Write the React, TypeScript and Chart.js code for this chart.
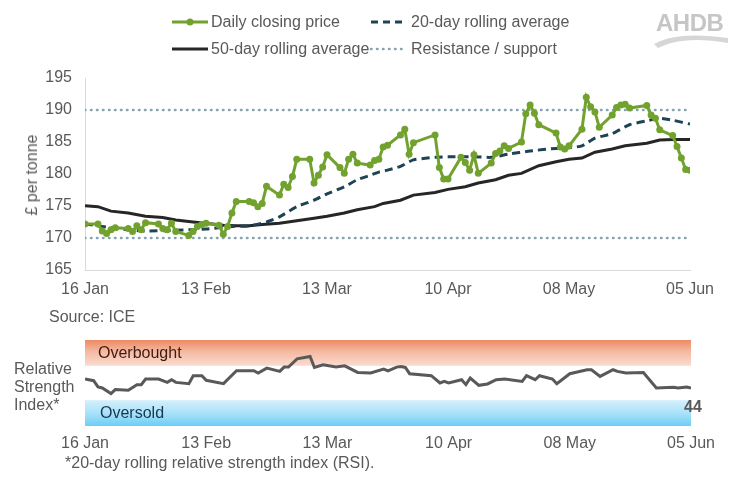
import React, { useEffect, useRef } from "react";
import { Chart, registerables } from "chart.js";

Chart.register(...registerables);

// ---- data (day index = days since 16 Jan) ----
const xTickLabels = ["16 Jan", "13 Feb", "13 Mar", "10 Apr", "08 May", "05 Jun"];
const yTicks = [165, 170, 175, 180, 185, 190, 195];

const priceDays = [
  0, 3, 4, 5, 6, 7, 10, 11, 12, 13, 14, 17, 18, 19, 20, 21, 24, 25, 26, 27, 28,
  31, 32, 33, 34, 35, 38, 39, 40, 41, 42, 45, 46, 47, 48, 49, 52, 53, 54, 55, 56,
  59, 60, 61, 62, 63, 66, 67, 68, 69, 70, 73, 74, 75, 76, 81, 82, 83, 84,
  87, 88, 89, 90, 91, 94, 95, 96, 97, 98, 101, 102, 103, 104, 105, 109, 110, 111, 112,
  115, 116, 117, 118, 119, 122, 123, 124, 125, 126, 130, 131, 132, 133, 136, 137, 138, 139, 140,
];
const priceValues = [
  172.2, 172.2, 171.1, 170.7, 171.3, 171.6, 171.5, 171.0, 171.9, 171.3, 172.4, 172.2, 171.5, 171.3, 172.3, 171.0, 170.4, 171.0, 171.8, 172.1, 172.3,
  172.0, 170.6, 171.8, 173.9, 175.7, 175.7, 175.5, 174.9, 175.4, 178.1, 176.7, 178.4, 177.9, 179.6, 182.3, 182.3, 178.6, 179.8, 181.1, 183.0,
  181.0, 180.1, 182.3, 183.1, 181.7, 181.4, 182.1, 182.3, 184.2, 184.5, 186.1, 187.0, 183.1, 184.9, 186.1, 181.0, 179.2, 179.2,
  182.6, 181.8, 180.6, 183.0, 180.1, 181.7, 183.2, 183.6, 184.4, 184.0, 185.0, 189.4, 190.8, 189.5, 187.7, 186.4, 184.2, 183.9, 184.4,
  187.0, 192.0, 190.5, 189.7, 187.3, 189.2, 190.4, 190.8, 190.9, 190.3, 190.7, 189.2, 188.7, 186.9, 186.0, 184.3, 182.5, 180.7, 180.6,
];

const avg20Days = [0, 7, 14, 21, 28, 34, 38, 42, 45, 49, 53, 56, 60, 63, 66, 68, 70, 73, 76, 81, 84, 90, 94, 98, 103, 109, 112, 115, 118, 122, 126, 130, 133, 136, 140];
const avg20Values = [172.2, 171.5, 171.1, 171.2, 171.4, 171.8, 171.9, 172.5, 173.3, 174.9, 175.9, 176.9, 178.0, 179.1, 179.8, 180.3, 180.6, 181.2, 182.2, 182.6, 182.7, 182.7, 182.6, 183.1, 183.6, 184.0, 184.1, 184.4, 185.6, 186.3, 187.7, 188.3, 188.7, 188.4, 187.8];

const avg50Days = [0, 3, 6, 10, 14, 18, 21, 25, 28, 32, 35, 38, 41, 45, 49, 53, 56, 60, 63, 67, 69, 73, 76, 81, 84, 88, 91, 95, 98, 101, 105, 109, 112, 115, 118, 122, 125, 130, 133, 136, 140];
const avg50Values = [175.05, 174.9, 174.2, 173.9, 173.4, 173.2, 172.8, 172.5, 172.3, 172.0, 171.9, 171.9, 172.1, 172.3, 172.7, 173.1, 173.4, 173.9, 174.4, 174.9, 175.4, 175.9, 176.7, 177.1, 177.6, 178.0, 178.6, 179.1, 179.8, 180.1, 181.3, 181.9, 182.3, 182.5, 183.4, 183.9, 184.4, 184.8, 185.3, 185.4, 185.4];

const resistanceLevel = 190;
const supportLevel = 170;

const rsiDays = [0, 2, 3, 4, 6, 7, 10, 12, 13, 14, 17, 19, 20, 21, 24, 25, 27, 28, 32, 35, 39, 40, 42, 45, 46, 47, 49, 52, 53, 55, 58, 60, 63, 66, 69, 70, 72, 73, 74, 75, 80, 82, 83, 84, 87, 88, 89, 91, 93, 95, 97, 101, 102, 104, 105, 108, 109, 112, 116, 117, 119, 122, 123, 125, 129, 132, 136, 137, 139, 140];
const rsiValues = [54.6, 52.7, 45.4, 44.2, 37.7, 42.3, 41.5, 48.1, 48.1, 54.6, 54.6, 50.7, 53.8, 50.7, 49.2, 58.5, 58.5, 53.1, 49.2, 64.2, 64.2, 61.5, 67.3, 63.5, 68.5, 68.5, 78.1, 80.8, 68.1, 71.2, 68.5, 70.0, 62.3, 61.6, 66.2, 64.2, 68.5, 69.2, 68.1, 60.8, 58.5, 50.0, 51.9, 50.0, 53.8, 48.1, 55.8, 47.3, 48.9, 53.8, 54.6, 51.9, 58.5, 53.8, 58.5, 54.6, 49.2, 60.8, 65.4, 65.4, 57.7, 65.4, 63.5, 61.6, 62.3, 44.2, 45.0, 44.2, 45.4, 44];
const rsiOverbought = 70;
const rsiOversold = 30;
const rsiLatestLabel = "44";

// ---- styles ----
const FONT = "'Liberation Sans', Arial, Helvetica, sans-serif";
const TEXT = "#595959";
const GREEN = "#72a22e";
const DASH = "#1e4354";
const BLACK = "#262626";
const DOT = "#86a3b3";
const AXIS = "#d9d9d9";

const pts = (xs: number[], ys: number[]) => xs.map((x, i) => ({ x, y: ys[i] }));

const xScaleBase = (height: number, pad: number, border: boolean) => ({
  type: "linear" as const,
  min: 0,
  max: 140,
  afterFit: (s: any) => {
    s.height = height;
  },
  grid: { display: false, drawTicks: false },
  border: { display: border, color: AXIS, width: 1 },
  ticks: {
    stepSize: 28,
    padding: pad,
    maxRotation: 0,
    autoSkip: false,
    color: TEXT,
    font: { family: FONT, size: 16 },
    callback: (v: any) => xTickLabels[Math.round(Number(v) / 28)] ?? "",
  },
});

const bandsPlugin = {
  id: "rsiBands",
  beforeDatasetsDraw(chart: any) {
    const { ctx, chartArea } = chart;
    const y = chart.scales.y;
    const l = chartArea.left;
    const w = chartArea.right - chartArea.left;
    const yTop = y.getPixelForValue(100);
    const yOb = y.getPixelForValue(rsiOverbought);
    const yOs = y.getPixelForValue(rsiOversold);
    const yBot = y.getPixelForValue(0);
    ctx.save();
    let g = ctx.createLinearGradient(0, yTop, 0, yOb);
    g.addColorStop(0, "#ec8a64");
    g.addColorStop(0.45, "#f5b9a2");
    g.addColorStop(1, "#fbdcd0");
    ctx.fillStyle = g;
    ctx.fillRect(l, yTop, w, yOb - yTop);
    g = ctx.createLinearGradient(0, yOs, 0, yBot);
    g.addColorStop(0, "#d4f0fc");
    g.addColorStop(0.55, "#a5e0f9");
    g.addColorStop(1, "#6bcdf6");
    ctx.fillStyle = g;
    ctx.fillRect(l, yOs, w, yBot - yOs);
    ctx.restore();
  },
};

function PriceChart() {
  const ref = useRef<HTMLCanvasElement>(null);
  useEffect(() => {
    const chart = new Chart(ref.current!, {
      type: "line",
      data: {
        datasets: [
          {
            label: "Daily closing price",
            data: pts(priceDays, priceValues),
            borderColor: GREEN,
            backgroundColor: GREEN,
            borderWidth: 3,
            pointRadius: 3.5,
            pointBorderWidth: 0,
            pointBackgroundColor: GREEN,
            tension: 0,
          },
          {
            label: "20-day rolling average",
            data: pts(avg20Days, avg20Values),
            borderColor: DASH,
            borderWidth: 3,
            borderDash: [8, 5],
            pointRadius: 0,
            tension: 0.2,
          },
          {
            label: "50-day rolling average",
            data: pts(avg50Days, avg50Values),
            borderColor: BLACK,
            borderWidth: 3,
            pointRadius: 0,
            tension: 0,
          },
          {
            label: "Resistance",
            data: [
              { x: 0, y: resistanceLevel },
              { x: 140, y: resistanceLevel },
            ],
            borderColor: DOT,
            borderWidth: 2.5,
            borderDash: [0.5, 5.5],
            borderCapStyle: "round",
            pointRadius: 0,
          },
          {
            label: "Support",
            data: [
              { x: 0, y: supportLevel },
              { x: 140, y: supportLevel },
            ],
            borderColor: DOT,
            borderWidth: 2.5,
            borderDash: [0.5, 5.5],
            borderCapStyle: "round",
            pointRadius: 0,
          },
        ],
      } as any,
      options: {
        responsive: false,
        animation: false,
        devicePixelRatio: 1,
        layout: { padding: { top: 78, right: 40, left: 0, bottom: 0 } },
        plugins: { legend: { display: false }, tooltip: { enabled: false } },
        scales: {
          x: xScaleBase(30, 10, true),
          y: {
            min: 165,
            max: 195,
            afterFit: (s: any) => {
              s.width = 85;
            },
            afterBuildTicks: (s: any) => {
              s.ticks = yTicks.map((v) => ({ value: v }));
            },
            grid: { display: false, drawTicks: false },
            border: { display: true, color: AXIS, width: 1 },
            ticks: { padding: 13, color: TEXT, font: { family: FONT, size: 16 } },
          },
        },
      } as any,
    });
    return () => chart.destroy();
  }, []);
  return <canvas ref={ref} width={730} height={300} style={{ position: "absolute", left: 0, top: 0 }} />;
}

function RsiChart() {
  const ref = useRef<HTMLCanvasElement>(null);
  useEffect(() => {
    const chart = new Chart(ref.current!, {
      type: "line",
      data: {
        datasets: [
          {
            label: "RSI",
            data: pts(rsiDays, rsiValues),
            borderColor: "#595959",
            borderWidth: 3,
            pointRadius: 0,
            tension: 0,
          },
        ],
      } as any,
      options: {
        responsive: false,
        animation: false,
        devicePixelRatio: 1,
        layout: { padding: { top: 40, right: 39, left: 85, bottom: 0 } },
        plugins: { legend: { display: false }, tooltip: { enabled: false } },
        scales: {
          x: xScaleBase(34, 8, false),
          y: { display: false, min: 0, max: 100 },
        },
      } as any,
      plugins: [bandsPlugin],
    });
    return () => chart.destroy();
  }, []);
  return <canvas ref={ref} width={730} height={160} style={{ position: "absolute", left: 0, top: 300 }} />;
}

const txt = (left: number, cy: number, extra: React.CSSProperties = {}): React.CSSProperties => ({
  position: "absolute",
  left,
  top: cy - 10,
  height: 20,
  lineHeight: "20px",
  fontSize: 16,
  whiteSpace: "nowrap",
  color: TEXT,
  ...extra,
});

function Swatch({ left, cy, kind }: { left: number; cy: number; kind: string }) {
  const w = 36;
  return (
    <svg style={{ position: "absolute", left, top: cy - 6 }} width={w} height={12}>
      {kind === "price" && (
        <>
          <line x1={0} y1={6} x2={w} y2={6} stroke={GREEN} strokeWidth={3} />
          <circle cx={w / 2} cy={6} r={3.5} fill={GREEN} />
        </>
      )}
      {kind === "avg20" && <line x1={0} y1={6} x2={w} y2={6} stroke={DASH} strokeWidth={3} strokeDasharray="7 5" />}
      {kind === "avg50" && <line x1={0} y1={6} x2={w} y2={6} stroke={BLACK} strokeWidth={3} />}
      {kind === "dot" && (
        <line x1={2} y1={6} x2={w} y2={6} stroke={DOT} strokeWidth={2.5} strokeDasharray="0.5 5.5" strokeLinecap="round" />
      )}
    </svg>
  );
}

export default function App() {
  return (
    <div
      style={{
        position: "absolute",
        left: 0,
        top: 0,
        width: 730,
        height: 478,
        background: "#ffffff",
        fontFamily: FONT,
        overflow: "hidden",
      }}
    >
      <PriceChart />
      <RsiChart />

      {/* legend */}
      <Swatch left={172} cy={22} kind="price" />
      <div style={txt(211, 22)}>Daily closing price</div>
      <Swatch left={371} cy={22} kind="avg20" />
      <div style={txt(411, 22)}>20-day rolling average</div>
      <Swatch left={172} cy={49} kind="avg50" />
      <div style={txt(211, 49)}>50-day rolling average</div>
      <Swatch left={369} cy={49} kind="dot" />
      <div style={txt(411, 49)}>Resistance / support</div>

      {/* logo */}
      <div style={txt(656, 23, { fontSize: 24, fontWeight: "bold", color: "#c6c6c6", height: 28, lineHeight: "28px", top: 9, letterSpacing: -0.5 })}>AHDB</div>
      <svg style={{ position: "absolute", left: 652, top: 30 }} width={78} height={20}>
        <path d="M2 14 C 20 4, 45 4, 76 8 L 76 13 C 48 8, 24 9, 6 18 Z" fill="#d6d6d6" />
      </svg>

      {/* y axis title */}
      <div
        style={{
          position: "absolute",
          left: 32,
          top: 175,
          transform: "translate(-50%, -50%) rotate(-90deg)",
          fontSize: 16,
          color: TEXT,
          whiteSpace: "nowrap",
          lineHeight: "20px",
        }}
      >
        £ per tonne
      </div>

      <div style={txt(49, 317)}>Source: ICE</div>

      {/* RSI panel texts */}
      <div style={txt(14, 369)}>Relative</div>
      <div style={txt(14, 387)}>Strength</div>
      <div style={txt(14, 405)}>Index*</div>
      <div style={txt(98, 353, { color: "#3d1c10" })}>Overbought</div>
      <div style={txt(100, 413, { color: "#16384f" })}>Oversold</div>
      <div style={txt(684, 407, { fontWeight: "bold" })}>{rsiLatestLabel}</div>

      <div style={txt(65, 463)}>*20-day rolling relative strength index (RSI).</div>
    </div>
  );
}
